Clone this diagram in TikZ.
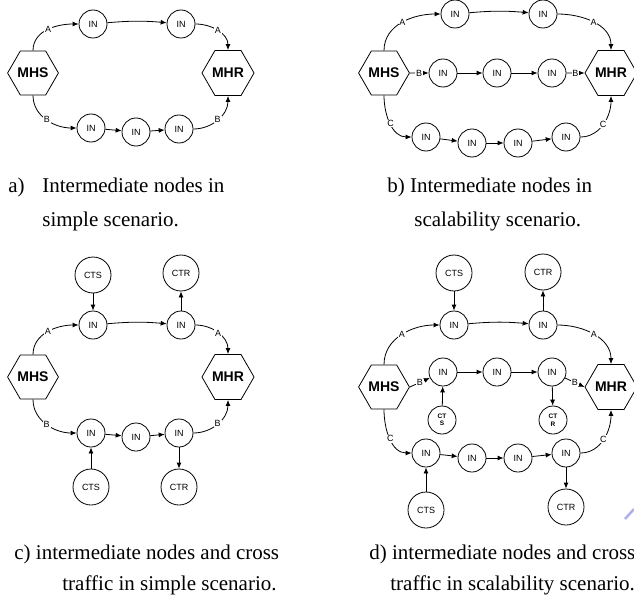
\documentclass[tikz,border=0pt]{standalone}
\usepackage{fontspec}
\setmainfont{Liberation Serif}
\setsansfont{Liberation Sans}
\usetikzlibrary{shapes.geometric, arrows.meta}

\definecolor{smudge}{RGB}{175,175,240}

\tikzset{
  innode/.style={circle, draw, minimum size=28pt, inner sep=0pt,
    font=\sffamily\fontsize{9}{9}\selectfont},
  ctnode/.style={circle, draw, minimum size=36pt, inner sep=0pt,
    font=\sffamily\fontsize{9}{9}\selectfont},
  ctsmall/.style={circle, draw, minimum size=28pt, inner sep=0pt, align=center,
    font=\sffamily\bfseries\fontsize{6.5}{7.5}\selectfont},
  hexnode/.style={regular polygon, regular polygon sides=6, draw,
    minimum size=46pt, inner sep=0pt,
    font=\sffamily\bfseries\fontsize{14}{14}\selectfont},
  link/.style={-{Latex[length=6pt,width=5pt]}},
  lbl/.style={fill=white, inner sep=0.8pt, font=\sffamily\fontsize{9}{9}\selectfont},
  caption/.style={anchor=base west, inner sep=0pt, font=\fontsize{21}{21}\selectfont}
}

\begin{document}
\begin{tikzpicture}[x=1pt, y=-1pt, line width=0.8pt]

    \useasboundingbox (0,0) rectangle (634,615);

    % --- a) simple scenario ---
    \node[hexnode] (mhsA) at (33,73) {MHS};
    \node[hexnode] (mhrA) at (228,73) {MHR};
    \node[innode] (inA1) at (93,24) {IN};
    \node[innode] (inA2) at (181,24) {IN};
    \node[innode] (inA3) at (91,128) {IN};
    \node[innode] (inA4) at (136,132) {IN};
    \node[innode] (inA5) at (179,129) {IN};

    \draw[link] (mhsA.north) to[out=90,in=180] node[lbl]{A} (inA1.west);
    \draw[link] (inA1) to[bend left=5] (inA2);
    \draw[link] (inA2.east) to[out=0,in=90] node[lbl]{A} (mhrA.north);
    \draw[link] (mhsA.south) to[out=-90,in=180] node[lbl]{B} (inA3.west);
    \draw[link] (inA3) -- (inA4);
    \draw[link] (inA4) -- (inA5);
    \draw[link] (inA5.east) to[out=0,in=-90] node[lbl]{B} (mhrA.south);

    % --- b) scalability scenario ---
    \node[hexnode] (mhsB) at (384,73) {MHS};
    \node[hexnode] (mhrB) at (611,73) {MHR};
    \node[innode] (inB1) at (455,14) {IN};
    \node[innode] (inB2) at (543,14) {IN};
    \node[innode] (inB3) at (443,73) {IN};
    \node[innode] (inB4) at (497,73) {IN};
    \node[innode] (inB5) at (552,73) {IN};
    \node[innode] (inB6) at (426,137) {IN};
    \node[innode] (inB7) at (472,143) {IN};
    \node[innode] (inB8) at (518,143) {IN};
    \node[innode] (inB9) at (566,137) {IN};

    \draw[link] (mhsB.north) to[out=90,in=180] node[lbl]{A} (inB1.west);
    \draw[link] (inB1) to[bend left=5] (inB2);
    \draw[link] (inB2.east) to[out=0,in=90] node[lbl]{A} (mhrB.north);
    \draw[link] (mhsB) -- node[lbl]{B} (inB3);
    \draw[link] (inB3) -- (inB4);
    \draw[link] (inB4) -- (inB5);
    \draw[link] (inB5) -- node[lbl]{B} (mhrB);
    \draw[link] (mhsB.south) to[out=-90,in=180] node[lbl]{C} (inB6.west);
    \draw[link] (inB6) -- (inB7);
    \draw[link] (inB7) -- (inB8);
    \draw[link] (inB8) -- (inB9);
    \draw[link] (inB9.east) to[out=0,in=-90] node[lbl]{C} (mhrB.south);

    % --- c) cross traffic, simple scenario ---
    \node[hexnode] (mhsC) at (33,377) {MHS};
    \node[hexnode] (mhrC) at (228,377) {MHR};
    \node[ctnode] (ctsC1) at (93,275) {CTS};
    \node[ctnode] (ctrC1) at (181,273) {CTR};
    \node[innode] (inC1) at (93,325) {IN};
    \node[innode] (inC2) at (181,325) {IN};
    \node[innode] (inC3) at (91,433) {IN};
    \node[innode] (inC4) at (136,437) {IN};
    \node[innode] (inC5) at (179,433) {IN};
    \node[ctnode] (ctsC2) at (91,487) {CTS};
    \node[ctnode] (ctrC2) at (179,487) {CTR};

    \draw[link] (mhsC.north) to[out=90,in=180] node[lbl]{A} (inC1.west);
    \draw[link] (inC1) to[bend left=5] (inC2);
    \draw[link] (inC2.east) to[out=0,in=90] node[lbl]{A} (mhrC.north);
    \draw[link] (mhsC.south) to[out=-90,in=180] node[lbl]{B} (inC3.west);
    \draw[link] (inC3) -- (inC4);
    \draw[link] (inC4) -- (inC5);
    \draw[link] (inC5.east) to[out=0,in=-90] node[lbl]{B} (mhrC.south);
    \draw[link] (ctsC1) -- (inC1);
    \draw[link] (inC2) -- (ctrC1);
    \draw[link] (ctsC2) -- (inC3);
    \draw[link] (inC5) -- (ctrC2);

    % --- d) cross traffic, scalability scenario ---
    \node[hexnode] (mhsD) at (384,387) {MHS};
    \node[hexnode] (mhrD) at (611,387) {MHR};
    \node[ctnode] (ctsD1) at (454,273) {CTS};
    \node[ctnode] (ctrD1) at (543,272) {CTR};
    \node[innode] (inD1) at (454,325) {IN};
    \node[innode] (inD2) at (543,325) {IN};
    \node[innode] (inD3) at (443,372) {IN};
    \node[innode] (inD4) at (497,372) {IN};
    \node[innode] (inD5) at (552,372) {IN};
    \node[ctsmall] (ctsD2) at (442,420) {CT\\S};
    \node[ctsmall] (ctrD2) at (553,420) {CT\\R};
    \node[innode] (inD6) at (426,453) {IN};
    \node[innode] (inD7) at (472,458) {IN};
    \node[innode] (inD8) at (518,458) {IN};
    \node[innode] (inD9) at (566,453) {IN};
    \node[ctnode] (ctsD3) at (426,510) {CTS};
    \node[ctnode] (ctrD3) at (566,507) {CTR};

    \draw[link] (mhsD.north) to[out=90,in=180] node[lbl]{A} (inD1.west);
    \draw[link] (inD1) to[bend left=5] (inD2);
    \draw[link] (inD2.east) to[out=0,in=90] node[lbl]{A} (mhrD.north);
    \draw[link] (mhsD.east) -- node[lbl]{B} (inD3);
    \draw[link] (inD3) -- (inD4);
    \draw[link] (inD4) -- (inD5);
    \draw[link] (inD5) -- node[lbl]{B} (mhrD.west);
    \draw[link] (mhsD.south) to[out=-90,in=180] node[lbl]{C} (inD6.west);
    \draw[link] (inD6) -- (inD7);
    \draw[link] (inD7) -- (inD8);
    \draw[link] (inD8) -- (inD9);
    \draw[link] (inD9.east) to[out=0,in=-90] node[lbl]{C} (mhrD.south);
    \draw[link] (ctsD1) -- (inD1);
    \draw[link] (inD2) -- (ctrD1);
    \draw[link] (ctsD2) -- (inD3);
    \draw[link] (inD5) -- (ctrD2);
    \draw[link] (ctsD3) -- (inD6);
    \draw[link] (inD9) -- (ctrD3);

    % --- Captions ---
    \node[caption] (capA1) at (8,192) {a)};
    \node[caption] (capA2) at (42,192) {Intermediate nodes in};
    \node[caption] (capA3) at (42,226) {simple scenario.};
    \node[caption] (capB1) at (387,192) {b) Intermediate nodes in};
    \node[caption] (capB2) at (414,226) {scalability scenario.};
    \node[caption] (capC1) at (14,559) {c) intermediate nodes and cross};
    \node[caption] (capC2) at (62,590) {traffic in simple scenario.};
    \node[caption] (capD1) at (369,559) {d) intermediate nodes and cross};
    \node[caption] (capD2) at (390,590) {traffic in scalability scenario.};

    % stray mark at the right edge
    \draw[smudge, line width=2.5pt] (625,519) -- (634,509);

\end{tikzpicture}
\end{document}
